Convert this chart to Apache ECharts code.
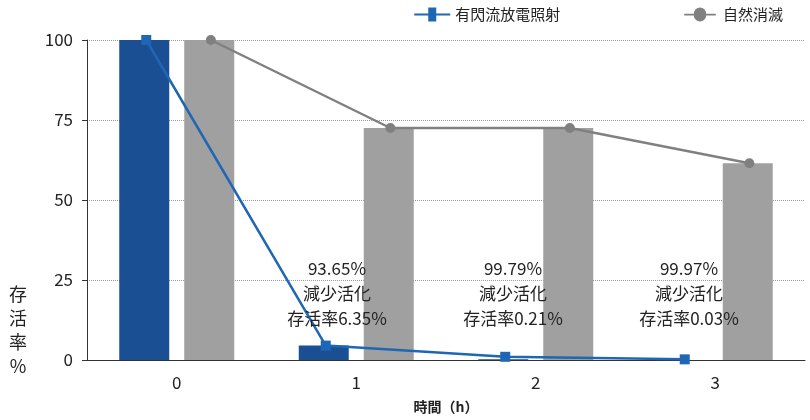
<!DOCTYPE html>
<html><head><meta charset="utf-8">
<script src="https://cdn.jsdelivr.net/npm/echarts@6/dist/echarts.min.js"></script>
<style>html,body{margin:0;padding:0;background:#fff}#c{width:810px;height:420px}</style>
</head><body><div id="c"></div>
<script>
var categories = ['0', '1', '2', '3'];
var treatedBars = [100, 4.5, 0.2, 0.03];
var naturalBars = [100, 72.5, 72.5, 61.5];
var treatedLine = [100, 4.5, 1, 0.2];
var naturalLine = [100, 72.5, 72.5, 61.5];
var notes = ['93.65%\n減少活化\n存活率6.35%', '99.79%\n減少活化\n存活率0.21%', '99.97%\n減少活化\n存活率0.03%'];
var yTicks = [0, 25, 50, 75, 100];

var font = '"Noto Sans CJK JP", "Noto Sans", sans-serif';
var blue = '#1a4f93', lineBlue = '#1f66b4', grey = '#a0a0a0', lineGrey = '#808080';

var chart = echarts.init(document.getElementById('c'));
chart.setOption({
  textStyle: { fontFamily: font },
  animation: false,
  grid: { left: 87, right: 5, top: 40, bottom: 60 },
  legend: {
    top: 2, right: 22, itemGap: 124, itemWidth: 36, itemHeight: 14,
    textStyle: { fontSize: 15, color: '#222', fontFamily: font },
    data: [
      { name: '有閃流放電照射', icon: 'path://M0,6H14V0H22V6H36V8H22V14H14V8H0Z' },
      { name: '自然消滅', icon: 'path://M0,6H11A7,7 0 0 1 25,6H36V8H25A7,7 0 0 1 11,8H0Z' }
    ]
  },
  xAxis: [{
    type: 'category', data: categories,
    axisLine: { lineStyle: { color: '#333' } }, axisTick: { show: false },
    axisLabel: { fontSize: 17, color: '#222', margin: 14 },
    name: '時間（h）', nameLocation: 'middle', nameGap: 40,
    nameTextStyle: { fontSize: 14, fontWeight: 'bold', color: '#222' }
  }, {
    type: 'value', min: -0.5, max: 3.5, show: false
  }],
  yAxis: {
    type: 'value', min: 0, max: 100, interval: 25,
    axisLine: { show: true, onZero: false, lineStyle: { color: '#333' } },
    axisLabel: { fontSize: 17, color: '#222', margin: 14,
      formatter: function (v) { return yTicks.indexOf(v) >= 0 ? v : ''; } },
    splitLine: { lineStyle: { color: '#999', type: 'dotted' } }
  },
  series: [{
    name: 'b1', type: 'bar', data: treatedBars, barWidth: 50, barGap: '30%',
    itemStyle: { color: blue }
  }, {
    name: 'b2', type: 'bar', data: naturalBars, barWidth: 50,
    itemStyle: { color: grey }
  }, {
    name: '有閃流放電照射', type: 'line', xAxisIndex: 1, z: 5,
    data: treatedLine.map(function (v, i) { return [i - 0.17, v]; }),
    symbol: 'rect', symbolSize: 10,
    lineStyle: { color: lineBlue, width: 2.5 }, itemStyle: { color: lineBlue }
  }, {
    name: '自然消滅', type: 'line', xAxisIndex: 1, z: 4,
    data: naturalLine.map(function (v, i) { return [i + 0.19, v]; }),
    symbol: 'circle', symbolSize: 10,
    lineStyle: { color: lineGrey, width: 2.5 }, itemStyle: { color: lineGrey }
  }],
  graphic: notes.map(function (t, i) {
    return { type: 'text', x: 337 + i * 176, y: 256, z: 10,
      style: { text: t, fontSize: 17, lineHeight: 25, align: 'center', fill: '#222', fontFamily: font } };
  }).concat([{
    type: 'text', x: 18, y: 282,
    style: { text: '存\n活\n率\n%', fontSize: 18, lineHeight: 24, align: 'center', fill: '#222', fontFamily: font }
  }])
});
</script></body></html>
